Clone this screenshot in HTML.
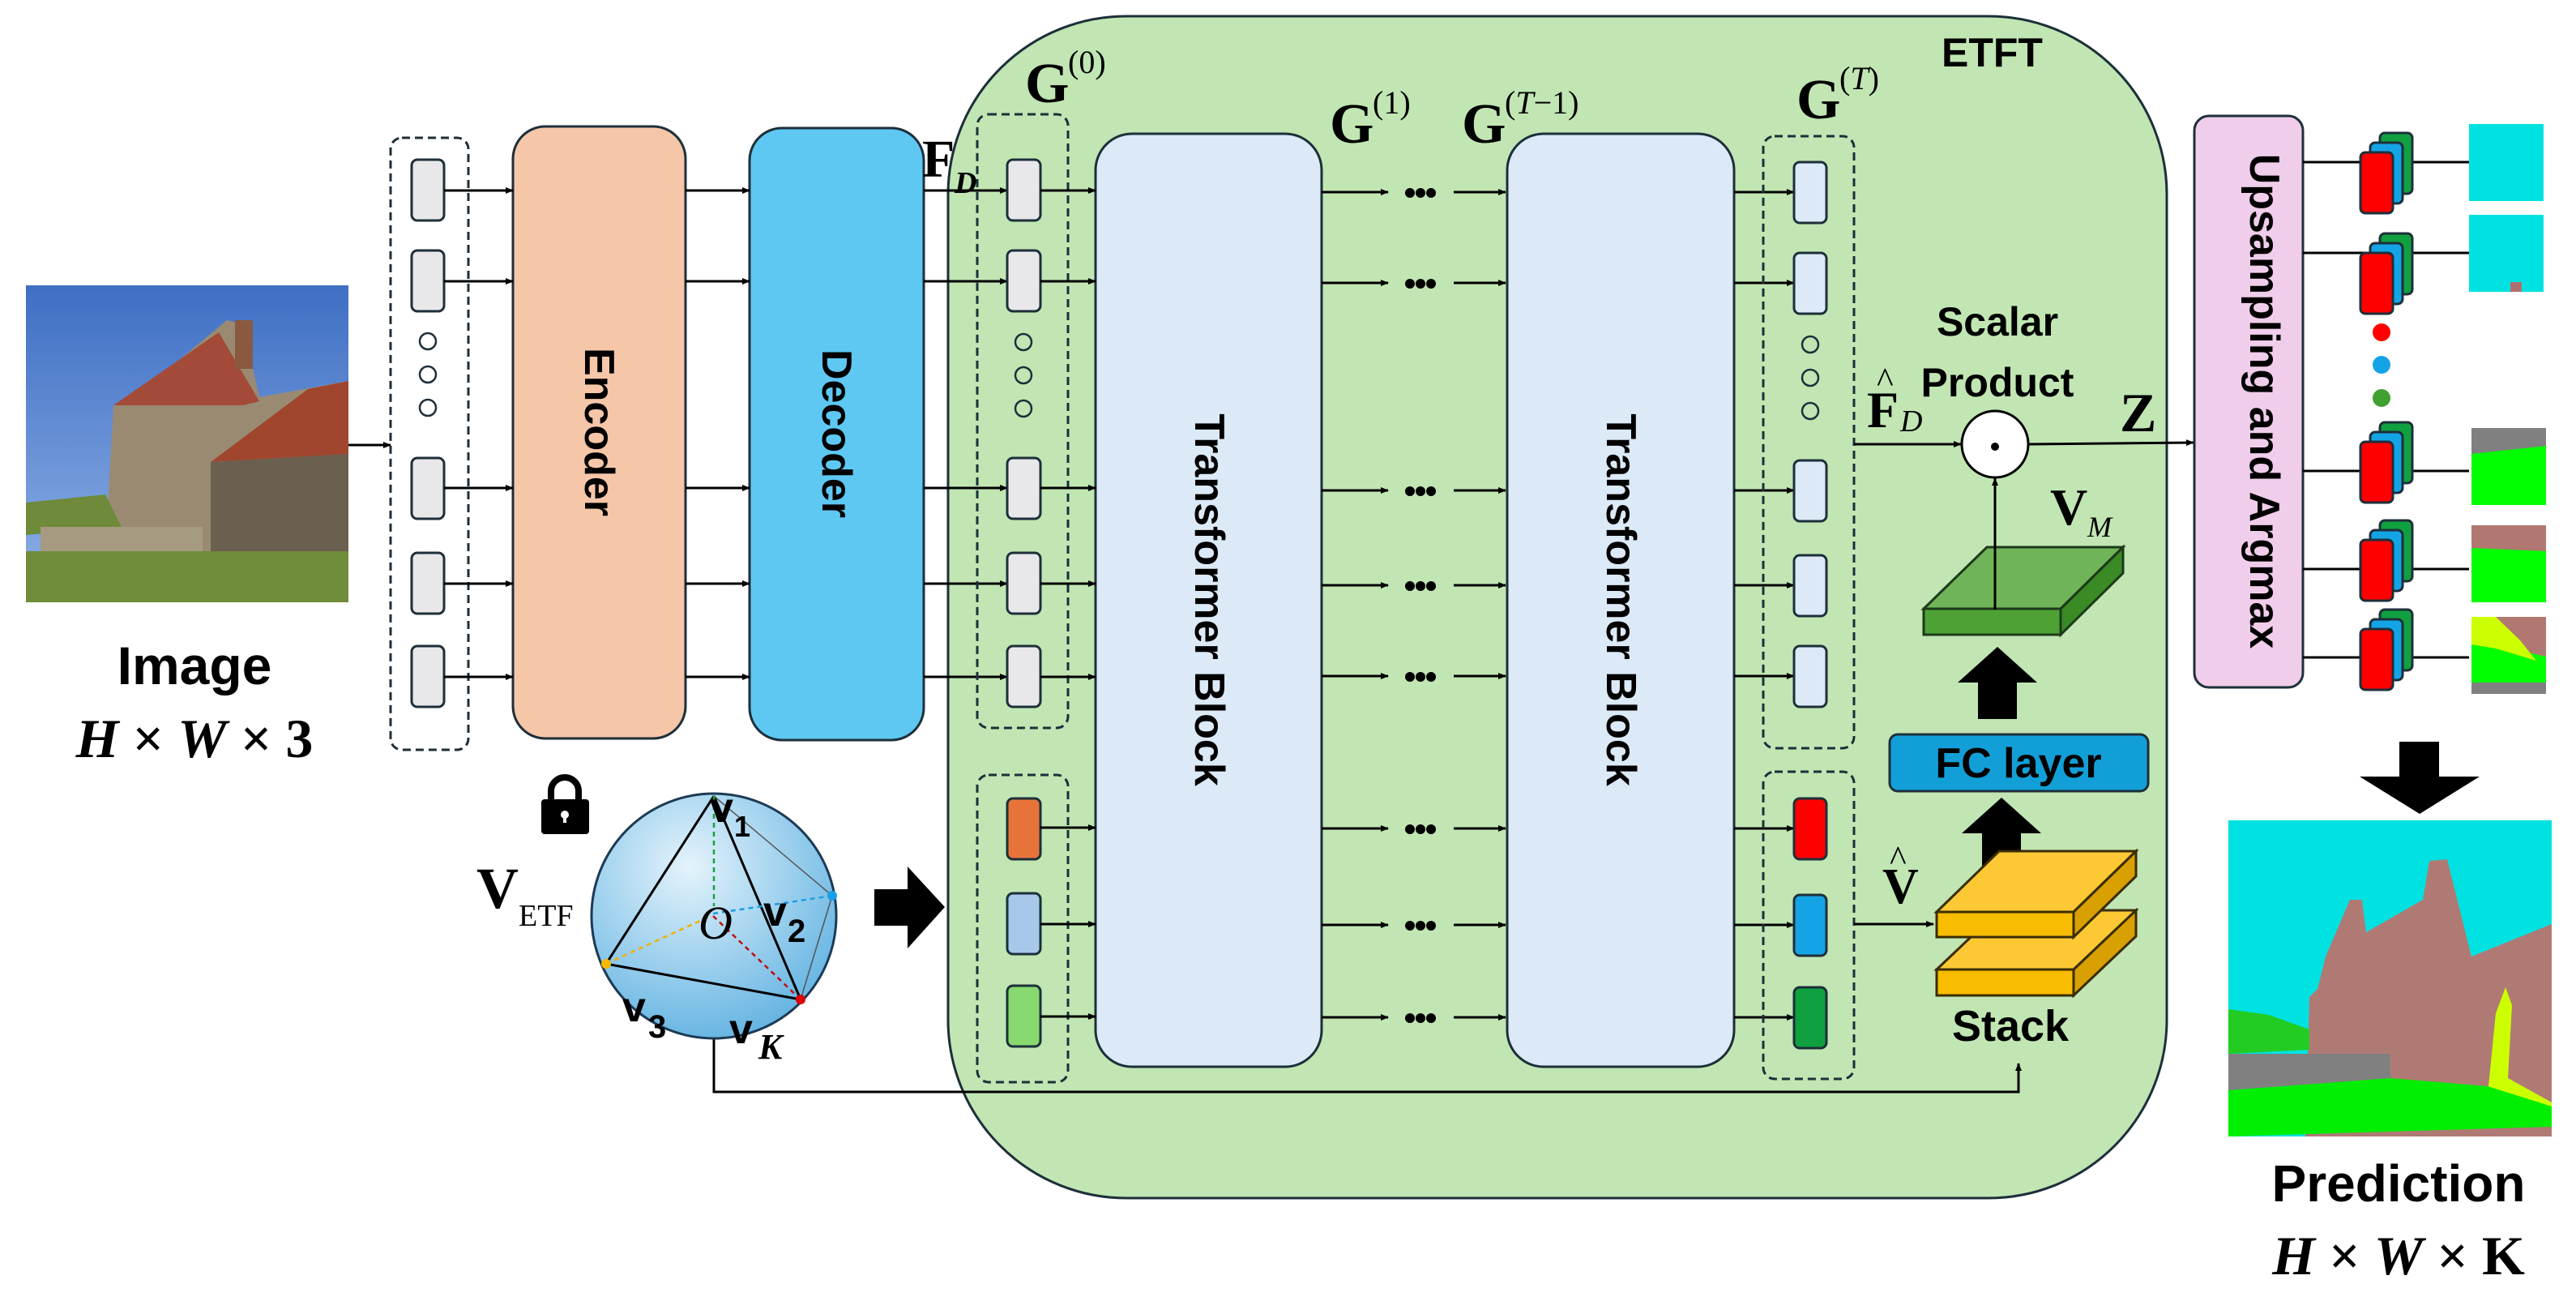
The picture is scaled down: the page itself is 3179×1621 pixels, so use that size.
<!DOCTYPE html>
<html><head><meta charset="utf-8"><style>
html,body{margin:0;padding:0;background:#fff}
svg{display:block}
.sb{font-family:"Liberation Sans",sans-serif;font-weight:bold}
.sf{font-family:"Liberation Serif",serif;font-weight:bold}
</style></head><body>
<svg width="3179" height="1621" viewBox="0 0 3179 1621" xmlns="http://www.w3.org/2000/svg">
<defs>
<marker id="a" markerWidth="10" markerHeight="8" refX="9" refY="4" orient="auto" markerUnits="userSpaceOnUse"><path d="M0,0L10,4L0,8z" fill="#000"/></marker>
<radialGradient id="sg" cx="0.4" cy="0.3" r="0.8"><stop offset="0" stop-color="#e4f3fb"/><stop offset="1" stop-color="#58aee0"/></radialGradient>
<linearGradient id="sky" x1="0" y1="0" x2="0" y2="1"><stop offset="0" stop-color="#3f6fc4"/><stop offset="1" stop-color="#8fb2e6"/></linearGradient>
<g id="dd"><circle cx="1740" cy="0" r="6"/><circle cx="1753" cy="0" r="6"/><circle cx="1766" cy="0" r="6"/></g>
<g id="fs" stroke="#1d2f3a" stroke-width="3"><rect x="2937" y="-48" width="40" height="75" rx="6" fill="#10a040"/><rect x="2925" y="-36" width="40" height="75" rx="6" fill="#14a4e6"/><rect x="2913" y="-24" width="40" height="75" rx="6" fill="#f00"/></g>
</defs>

<!-- big green ETFT -->
<rect x="1170" y="20" width="1504" height="1458" rx="220" fill="#c1e6b3" stroke="#1d2f3a" stroke-width="3"/>
<text x="2396" y="82" class="sb" font-size="50">ETFT</text>

<!-- photo -->
<rect x="32" y="352" width="398" height="391" fill="url(#sky)"/>
<polygon points="130,680 140,500 190,470 280,395 300,400 320,490 430,470 430,680" fill="#9a8a72"/>
<polygon points="140,500 270,410 320,495 300,500" fill="#a34b38"/>
<polygon points="260,570 380,480 430,470 430,560" fill="#a0462f"/>
<polygon points="260,570 430,560 430,690 260,690" fill="#6b6050"/>
<rect x="290" y="395" width="22" height="60" fill="#8a5a40"/>
<polygon points="32,620 130,610 150,650 32,660" fill="#6e8a3a"/>
<rect x="50" y="650" width="200" height="35" fill="#a69a80"/>
<rect x="32" y="680" width="398" height="63" fill="#6f8d3a"/>

<text x="240" y="844" class="sb" font-size="66" text-anchor="middle">Image</text>
<text x="240" y="934" class="sf" font-size="68" text-anchor="middle"><tspan font-style="italic">H</tspan> × <tspan font-style="italic">W</tspan> × 3</text>

<!-- input tokens -->
<rect x="482" y="170" width="96" height="755" rx="14" fill="none" stroke="#1d2f3a" stroke-width="3" stroke-dasharray="10,6"/>
<g fill="#e8e8ea" stroke="#1d2f3a" stroke-width="3">
<rect x="508" y="197" width="40" height="75" rx="7"/>
<rect x="508" y="309" width="40" height="75" rx="7"/>
<rect x="508" y="565" width="40" height="75" rx="7"/>
<rect x="508" y="682" width="40" height="75" rx="7"/>
<rect x="508" y="797" width="40" height="75" rx="7"/>
</g>
<g fill="none" stroke="#1d2f3a" stroke-width="2.5"><circle cx="528" cy="421" r="10"/><circle cx="528" cy="462" r="10"/><circle cx="528" cy="503" r="10"/></g>
<line x1="430" y1="549" x2="482" y2="549" stroke="#000" stroke-width="3" marker-end="url(#a)"/>

<rect x="633" y="156" width="213" height="755" rx="40" fill="#f5c6a8" stroke="#1d2f3a" stroke-width="3"/>
<text class="sb" font-size="52" transform="translate(722,533) rotate(90)" text-anchor="middle">Encoder</text>
<rect x="925" y="158" width="215" height="755" rx="40" fill="#5ec8f2" stroke="#1d2f3a" stroke-width="3"/>
<text class="sb" font-size="52" transform="translate(1015,535) rotate(90)" text-anchor="middle">Decoder</text>

<g stroke="#000" stroke-width="3" marker-end="url(#a)">
<line x1="548" y1="235" x2="633" y2="235"/><line x1="548" y1="347" x2="633" y2="347"/><line x1="548" y1="602" x2="633" y2="602"/><line x1="548" y1="720" x2="633" y2="720"/><line x1="548" y1="835" x2="633" y2="835"/>
<line x1="846" y1="235" x2="925" y2="235"/><line x1="846" y1="347" x2="925" y2="347"/><line x1="846" y1="602" x2="925" y2="602"/><line x1="846" y1="720" x2="925" y2="720"/><line x1="846" y1="835" x2="925" y2="835"/>
<line x1="1140" y1="235" x2="1243" y2="235"/><line x1="1140" y1="347" x2="1243" y2="347"/><line x1="1140" y1="602" x2="1243" y2="602"/><line x1="1140" y1="720" x2="1243" y2="720"/><line x1="1140" y1="835" x2="1243" y2="835"/>
</g>
<text x="1138" y="218" class="sf" font-size="66">F</text><text x="1178" y="238" class="sf" font-size="38" font-style="italic" font-weight="normal">D</text>

<!-- G0 -->
<text x="1265" y="126" class="sf" font-size="70">G</text><text x="1318" y="90" font-family="Liberation Serif" font-size="40">(0)</text>
<rect x="1206" y="141" width="112" height="757" rx="14" fill="none" stroke="#1d2f3a" stroke-width="3" stroke-dasharray="10,6"/>
<g fill="#e8e8ea" stroke="#1d2f3a" stroke-width="3">
<rect x="1243" y="197" width="41" height="75" rx="7"/><rect x="1243" y="309" width="41" height="75" rx="7"/><rect x="1243" y="565" width="41" height="75" rx="7"/><rect x="1243" y="682" width="41" height="75" rx="7"/><rect x="1243" y="797" width="41" height="75" rx="7"/>
</g>
<g fill="none" stroke="#1d2f3a" stroke-width="2.5"><circle cx="1263" cy="422" r="10"/><circle cx="1263" cy="463" r="10"/><circle cx="1263" cy="504" r="10"/></g>
<rect x="1206" y="956" width="112" height="379" rx="14" fill="none" stroke="#1d2f3a" stroke-width="3" stroke-dasharray="10,6"/>
<rect x="1243" y="985" width="41" height="75" rx="7" fill="#e8733a" stroke="#1d2f3a" stroke-width="3"/>
<rect x="1243" y="1102" width="41" height="75" rx="7" fill="#a8c8ea" stroke="#1d2f3a" stroke-width="3"/>
<rect x="1243" y="1216" width="41" height="75" rx="7" fill="#88d870" stroke="#1d2f3a" stroke-width="3"/>

<!-- transformer blocks -->
<rect x="1352" y="165" width="279" height="1151" rx="45" fill="#dce9f6" stroke="#1d2f3a" stroke-width="3"/>
<text class="sb" font-size="52" transform="translate(1475,740) rotate(90)" text-anchor="middle">Transformer Block</text>
<rect x="1860" y="165" width="280" height="1151" rx="45" fill="#dce9f6" stroke="#1d2f3a" stroke-width="3"/>
<text class="sb" font-size="52" transform="translate(1983,740) rotate(90)" text-anchor="middle">Transformer Block</text>
<text x="1641" y="176" class="sf" font-size="70">G</text><text x="1694" y="140" font-family="Liberation Serif" font-size="40">(1)</text>
<text x="1804" y="176" class="sf" font-size="70">G</text><text x="1857" y="140" font-family="Liberation Serif" font-size="40">(<tspan font-style="italic">T</tspan>−1)</text>

<g stroke="#000" stroke-width="3" marker-end="url(#a)">
<line x1="1284" y1="235" x2="1352" y2="235"/><line x1="1284" y1="347" x2="1352" y2="347"/><line x1="1284" y1="602" x2="1352" y2="602"/><line x1="1284" y1="720" x2="1352" y2="720"/><line x1="1284" y1="835" x2="1352" y2="835"/>
<line x1="1284" y1="1021" x2="1352" y2="1021"/><line x1="1284" y1="1140" x2="1352" y2="1140"/><line x1="1284" y1="1254" x2="1352" y2="1254"/>
<line x1="1631" y1="237" x2="1713" y2="237"/><line x1="1794" y1="237" x2="1858" y2="237"/>
<line x1="1631" y1="349" x2="1713" y2="349"/><line x1="1794" y1="349" x2="1858" y2="349"/>
<line x1="1631" y1="605" x2="1713" y2="605"/><line x1="1794" y1="605" x2="1858" y2="605"/>
<line x1="1631" y1="722" x2="1713" y2="722"/><line x1="1794" y1="722" x2="1858" y2="722"/>
<line x1="1631" y1="834" x2="1713" y2="834"/><line x1="1794" y1="834" x2="1858" y2="834"/>
<line x1="1631" y1="1022" x2="1713" y2="1022"/><line x1="1794" y1="1022" x2="1858" y2="1022"/>
<line x1="1631" y1="1141" x2="1713" y2="1141"/><line x1="1794" y1="1141" x2="1858" y2="1141"/>
<line x1="1631" y1="1255" x2="1713" y2="1255"/><line x1="1794" y1="1255" x2="1858" y2="1255"/>
<line x1="2140" y1="237" x2="2214" y2="237"/><line x1="2140" y1="349" x2="2214" y2="349"/><line x1="2140" y1="605" x2="2214" y2="605"/><line x1="2140" y1="722" x2="2214" y2="722"/><line x1="2140" y1="834" x2="2214" y2="834"/>
<line x1="2140" y1="1022" x2="2214" y2="1022"/><line x1="2140" y1="1141" x2="2214" y2="1141"/><line x1="2140" y1="1255" x2="2214" y2="1255"/>
</g>
<g fill="#000">
<use href="#dd" y="238"/><use href="#dd" y="350"/><use href="#dd" y="606"/><use href="#dd" y="723"/><use href="#dd" y="835"/><use href="#dd" y="1023"/><use href="#dd" y="1142"/><use href="#dd" y="1256"/>
</g>

<!-- GT -->
<text x="2217" y="146" class="sf" font-size="70">G</text><text x="2270" y="110" font-family="Liberation Serif" font-size="40">(<tspan font-style="italic">T</tspan>)</text>
<rect x="2176" y="168" width="112" height="755" rx="14" fill="none" stroke="#1d2f3a" stroke-width="3" stroke-dasharray="10,6"/>
<g fill="#dce9f6" stroke="#1d2f3a" stroke-width="3">
<rect x="2214" y="200" width="40" height="75" rx="7"/><rect x="2214" y="312" width="40" height="75" rx="7"/><rect x="2214" y="568" width="40" height="75" rx="7"/><rect x="2214" y="685" width="40" height="75" rx="7"/><rect x="2214" y="797" width="40" height="75" rx="7"/>
</g>
<g fill="none" stroke="#1d2f3a" stroke-width="2.5"><circle cx="2234" cy="425" r="10"/><circle cx="2234" cy="466" r="10"/><circle cx="2234" cy="507" r="10"/></g>
<rect x="2176" y="952" width="112" height="379" rx="14" fill="none" stroke="#1d2f3a" stroke-width="3" stroke-dasharray="10,6"/>
<rect x="2214" y="985" width="40" height="75" rx="7" fill="#f00" stroke="#1d2f3a" stroke-width="3"/>
<rect x="2214" y="1104" width="40" height="75" rx="7" fill="#14a4e6" stroke="#1d2f3a" stroke-width="3"/>
<rect x="2214" y="1218" width="40" height="75" rx="7" fill="#10a040" stroke="#1d2f3a" stroke-width="3"/>

<!-- scalar product -->
<text x="2465" y="414" class="sb" font-size="50" text-anchor="middle">Scalar</text>
<text x="2465" y="489" class="sb" font-size="50" text-anchor="middle">Product</text>
<text x="2304" y="527" class="sf" font-size="64">F</text><text x="2316" y="484" font-family="Liberation Serif" font-size="44">^</text><text x="2345" y="532" font-family="Liberation Serif" font-style="italic" font-size="38">D</text>
<line x1="2288" y1="548" x2="2420" y2="548" stroke="#000" stroke-width="3" marker-end="url(#a)"/>
<circle cx="2462" cy="548" r="41" fill="#fff" stroke="#000" stroke-width="3"/>
<circle cx="2462" cy="551" r="5" fill="#000"/>
<line x1="2503" y1="548" x2="2707" y2="546" stroke="#000" stroke-width="3" marker-end="url(#a)"/>
<text x="2616" y="532" class="sf" font-size="68">Z</text>
<text x="2530" y="647" class="sf" font-size="64">V</text><text x="2576" y="662" font-family="Liberation Serif" font-style="italic" font-size="36">M</text>
<!-- green slab -->
<polygon points="2374,751 2452,675 2620,675 2543,751" fill="#70b45a" stroke="#1d3a1a" stroke-width="3"/>
<polygon points="2374,751 2543,751 2543,783 2374,783" fill="#4da233" stroke="#1d3a1a" stroke-width="3"/>
<polygon points="2543,751 2620,675 2620,707 2543,783" fill="#3a8a25" stroke="#1d3a1a" stroke-width="3"/>
<line x1="2462" y1="752" x2="2462" y2="590" stroke="#000" stroke-width="3" marker-end="url(#a)"/>
<polygon points="2416,842 2465,798 2514,842 2489,842 2489,887 2441,887 2441,842" fill="#000"/>
<rect x="2332" y="906" width="319" height="70" rx="10" fill="#129fd8" stroke="#1d2f3a" stroke-width="3"/>
<text x="2491" y="959" class="sb" font-size="52" text-anchor="middle">FC layer</text>
<polygon points="2421,1028 2470,984 2519,1028 2494,1028 2494,1072 2446,1072 2446,1028" fill="#000"/>
<!-- stack -->
<polygon points="2390,1196 2467,1123 2636,1123 2559,1196" fill="#fcc935" stroke="#3a2d00" stroke-width="3"/>
<polygon points="2390,1196 2559,1196 2559,1228 2390,1228" fill="#f8bc00" stroke="#3a2d00" stroke-width="3"/>
<polygon points="2559,1196 2636,1123 2636,1155 2559,1228" fill="#d8a000" stroke="#3a2d00" stroke-width="3"/>
<polygon points="2390,1125 2467,1050 2636,1050 2559,1125" fill="#fcc935" stroke="#3a2d00" stroke-width="3"/>
<polygon points="2390,1125 2559,1125 2559,1156 2390,1156" fill="#f8bc00" stroke="#3a2d00" stroke-width="3"/>
<polygon points="2559,1125 2636,1050 2636,1081 2559,1156" fill="#d8a000" stroke="#3a2d00" stroke-width="3"/>
<text x="2481" y="1284" class="sb" font-size="54" text-anchor="middle">Stack</text>
<text x="2323" y="1114" class="sf" font-size="62">V</text><text x="2332" y="1074" font-family="Liberation Serif" font-size="44">^</text>
<line x1="2288" y1="1140" x2="2386" y2="1140" stroke="#000" stroke-width="3" marker-end="url(#a)"/>

<!-- ETF line -->
<polyline points="881,1270 881,1347 2491,1347 2491,1312" fill="none" stroke="#000" stroke-width="3" marker-end="url(#a)"/>

<!-- lock -->
<path d="M680,988 v-12 a17,17 0 0 1 34,0 v12" fill="none" stroke="#000" stroke-width="8"/>
<rect x="668" y="986" width="59" height="43" rx="4" fill="#000"/>
<circle cx="697" cy="1005" r="5" fill="#fff"/><rect x="695" y="1005" width="4" height="10" fill="#fff"/>
<text x="588" y="1120" class="sf" font-size="72">V</text><text x="640" y="1142" font-family="Liberation Serif" font-size="38">ETF</text>
<!-- sphere -->
<circle cx="881" cy="1130" r="151" fill="url(#sg)" stroke="#1d3a55" stroke-width="3"/>
<g stroke="#000" stroke-width="3" fill="none">
<line x1="881" y1="982" x2="748" y2="1189"/><line x1="881" y1="982" x2="988" y2="1233"/><line x1="748" y1="1189" x2="988" y2="1233"/>
</g>
<g stroke="#555" stroke-width="1.5"><line x1="881" y1="982" x2="1027" y2="1105"/><line x1="1027" y1="1105" x2="988" y2="1233"/></g>
<g stroke-width="2.5" stroke-dasharray="6,5">
<line x1="881" y1="982" x2="881" y2="1118" stroke="#1aa040"/>
<line x1="748" y1="1189" x2="877" y2="1130" stroke="#f0b000"/>
<line x1="880" y1="1127" x2="1027" y2="1105" stroke="#1a9ee0"/>
<line x1="880" y1="1130" x2="988" y2="1233" stroke="#c01010"/>
</g>
<circle cx="748" cy="1189" r="6" fill="#f5b800"/><circle cx="1027" cy="1105" r="6" fill="#1aa0e8"/><circle cx="988" cy="1233" r="6" fill="#e00000"/>
<text x="862" y="1158" font-family="Liberation Serif" font-style="italic" font-size="58">O</text>
<text x="876" y="1014" class="sb" font-size="52">v</text><text x="906" y="1032" class="sb" font-size="36">1</text>
<text x="942" y="1142" class="sb" font-size="52">v</text><text x="972" y="1162" class="sb" font-size="40">2</text>
<text x="768" y="1260" class="sb" font-size="52">v</text><text x="800" y="1280" class="sb" font-size="40">3</text>
<text x="900" y="1287" class="sb" font-size="52">v</text><text x="936" y="1306" class="sf" font-style="italic" font-size="44">K</text>
<!-- big right arrow -->
<polygon points="1079,1097 1120,1097 1120,1069 1166,1119 1120,1170 1120,1142 1079,1142" fill="#000"/>

<!-- upsampling -->
<rect x="2708" y="143" width="134" height="705" rx="18" fill="#f0cdea" stroke="#1d2f3a" stroke-width="3"/>
<text class="sb" font-size="52" transform="translate(2777,495) rotate(90)" text-anchor="middle">Upsampling and Argmax</text>
<g stroke="#000" stroke-width="3">
<line x1="2842" y1="200" x2="3047" y2="200"/><line x1="2842" y1="312" x2="3047" y2="312"/><line x1="2842" y1="581" x2="3047" y2="581"/><line x1="2842" y1="702" x2="3047" y2="702"/><line x1="2842" y1="811" x2="3047" y2="811"/>
</g>
<use href="#fs" y="212"/><use href="#fs" y="336"/><use href="#fs" y="569"/><use href="#fs" y="690"/><use href="#fs" y="800"/>
<circle cx="2939" cy="410" r="11" fill="#f00"/><circle cx="2939" cy="450" r="11" fill="#14a4e6"/><circle cx="2939" cy="491" r="11" fill="#40a030"/>
<!-- thumbnails -->
<rect x="3047" y="153" width="92" height="95" fill="#00e2e2"/>
<rect x="3047" y="265" width="92" height="95" fill="#00e2e2"/><rect x="3098" y="348" width="14" height="12" fill="#b07070"/>
<rect x="3050" y="528" width="92" height="95" fill="#0f0"/><polygon points="3050,528 3142,528 3142,550 3050,560" fill="#808080"/>
<rect x="3050" y="648" width="92" height="95" fill="#0f0"/><polygon points="3050,648 3142,648 3142,680 3050,676" fill="#b07870"/>
<rect x="3050" y="761" width="92" height="95" fill="#0f0"/><polygon points="3050,761 3142,761 3142,810 3100,800 3050,790" fill="#b07870"/><polygon points="3050,761 3080,761 3110,790 3130,815 3080,800 3050,795" fill="#ccff00"/><rect x="3050" y="842" width="92" height="14" fill="#808080"/>
<polygon points="2912,958 2961,958 2961,915 3010,915 3010,958 3060,958 2986,1004" fill="#000"/>
<!-- prediction -->
<rect x="2750" y="1012" width="399" height="390" fill="#00e2e2"/>
<polygon points="2860,1220 2870,1180 2900,1110 2915,1110 2920,1150 2990,1110 2998,1062 3020,1060 3030,1100 3050,1180 3149,1140 3149,1402 2845,1402 2850,1230" fill="#b07a74"/>
<polygon points="3070,1350 3080,1250 3092,1218 3100,1240 3095,1330 3149,1360 3149,1390 3070,1390" fill="#ccff00"/>
<polygon points="2750,1245 2800,1252 2850,1270 2850,1295 2750,1300" fill="#22cc22"/>
<polygon points="2750,1300 2950,1300 2950,1330 2750,1345" fill="#808080"/>
<polygon points="2750,1345 2950,1330 3070,1340 3149,1365 3149,1390 2750,1402" fill="#00ee00"/>
<text x="2960" y="1482" class="sb" font-size="64" text-anchor="middle">Prediction</text>
<text x="2960" y="1572" class="sf" font-size="68" text-anchor="middle"><tspan font-style="italic">H</tspan> × <tspan font-style="italic">W</tspan> × K</text>
</svg>
</body></html>
